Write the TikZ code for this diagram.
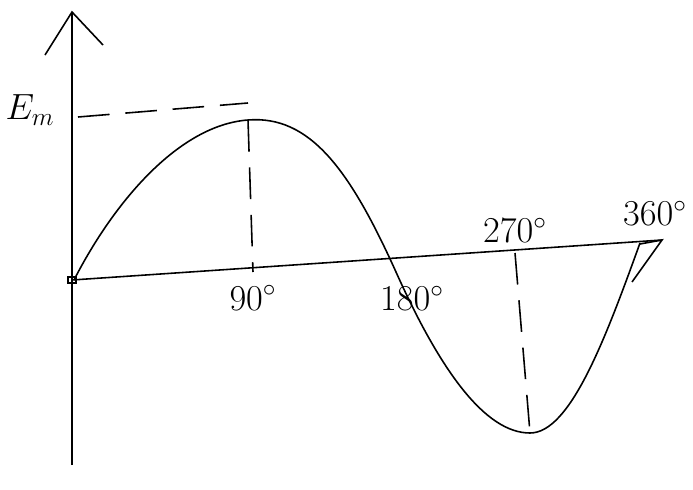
\documentclass[tikz,border=0pt]{standalone}
\usepackage{amsmath,amssymb}
\usepackage{tikz}
\usetikzlibrary{arrows.meta,positioning,calc}

\begin{document}
\begin{tikzpicture}[x=0.02cm, y=-0.02cm, line width=0.9pt]
    \useasboundingbox (0,0) rectangle (693,490);

    % Axes
    \coordinate (o) at (72,280);
    \coordinate (ytop) at (72,12);
    \coordinate (ybot) at (72,465);
    \coordinate (xend) at (662,240);
    \draw (ybot) -- (ytop);
    \draw (45,55) -- (ytop) -- (103,45);
    \draw (o) -- (xend);
    \draw (640,244) -- (xend) -- (632,282);
    \draw (o) ++(-4,-3) rectangle ++(8,6);

    % Sine curve
    \coordinate (peak) at (248,120);
    \coordinate (zero) at (396,272);
    \coordinate (trough) at (530,433);
    \coordinate (cend) at (640,243);
    \draw (74,280) .. controls (115,200) and (180,125) .. (peak)
        .. controls (310,115) and (350,170) .. (zero)
        .. controls (440,370) and (485,433) .. (trough)
        .. controls (570,433) and (605,340) .. (cend);

    % Peak and trough markers
    \coordinate (p90) at (253,272);
    \coordinate (p270) at (515,253);
    \coordinate (emax) at (78,117);
    \draw[dashed, dash pattern=on 18pt off 9pt] (emax) -- (248,103);
    \draw[dashed, dash pattern=on 18pt off 9pt] (peak) -- (p90);
    \draw[dashed, dash pattern=on 18pt off 9pt] (p270) -- (trough);

    % Labels
    \node[font=\huge] (em) at (30,110) {$E_m$};
    \node[font=\huge, below=4pt of p90] (l90) {$90^\circ$};
    \node[font=\huge] (l180) at (412,298) {$180^\circ$};
    \node[font=\huge, above=2pt of p270] (l270) {$270^\circ$};
    \node[font=\huge] (l360) at (655,213) {$360^\circ$};
\end{tikzpicture}
\end{document}
